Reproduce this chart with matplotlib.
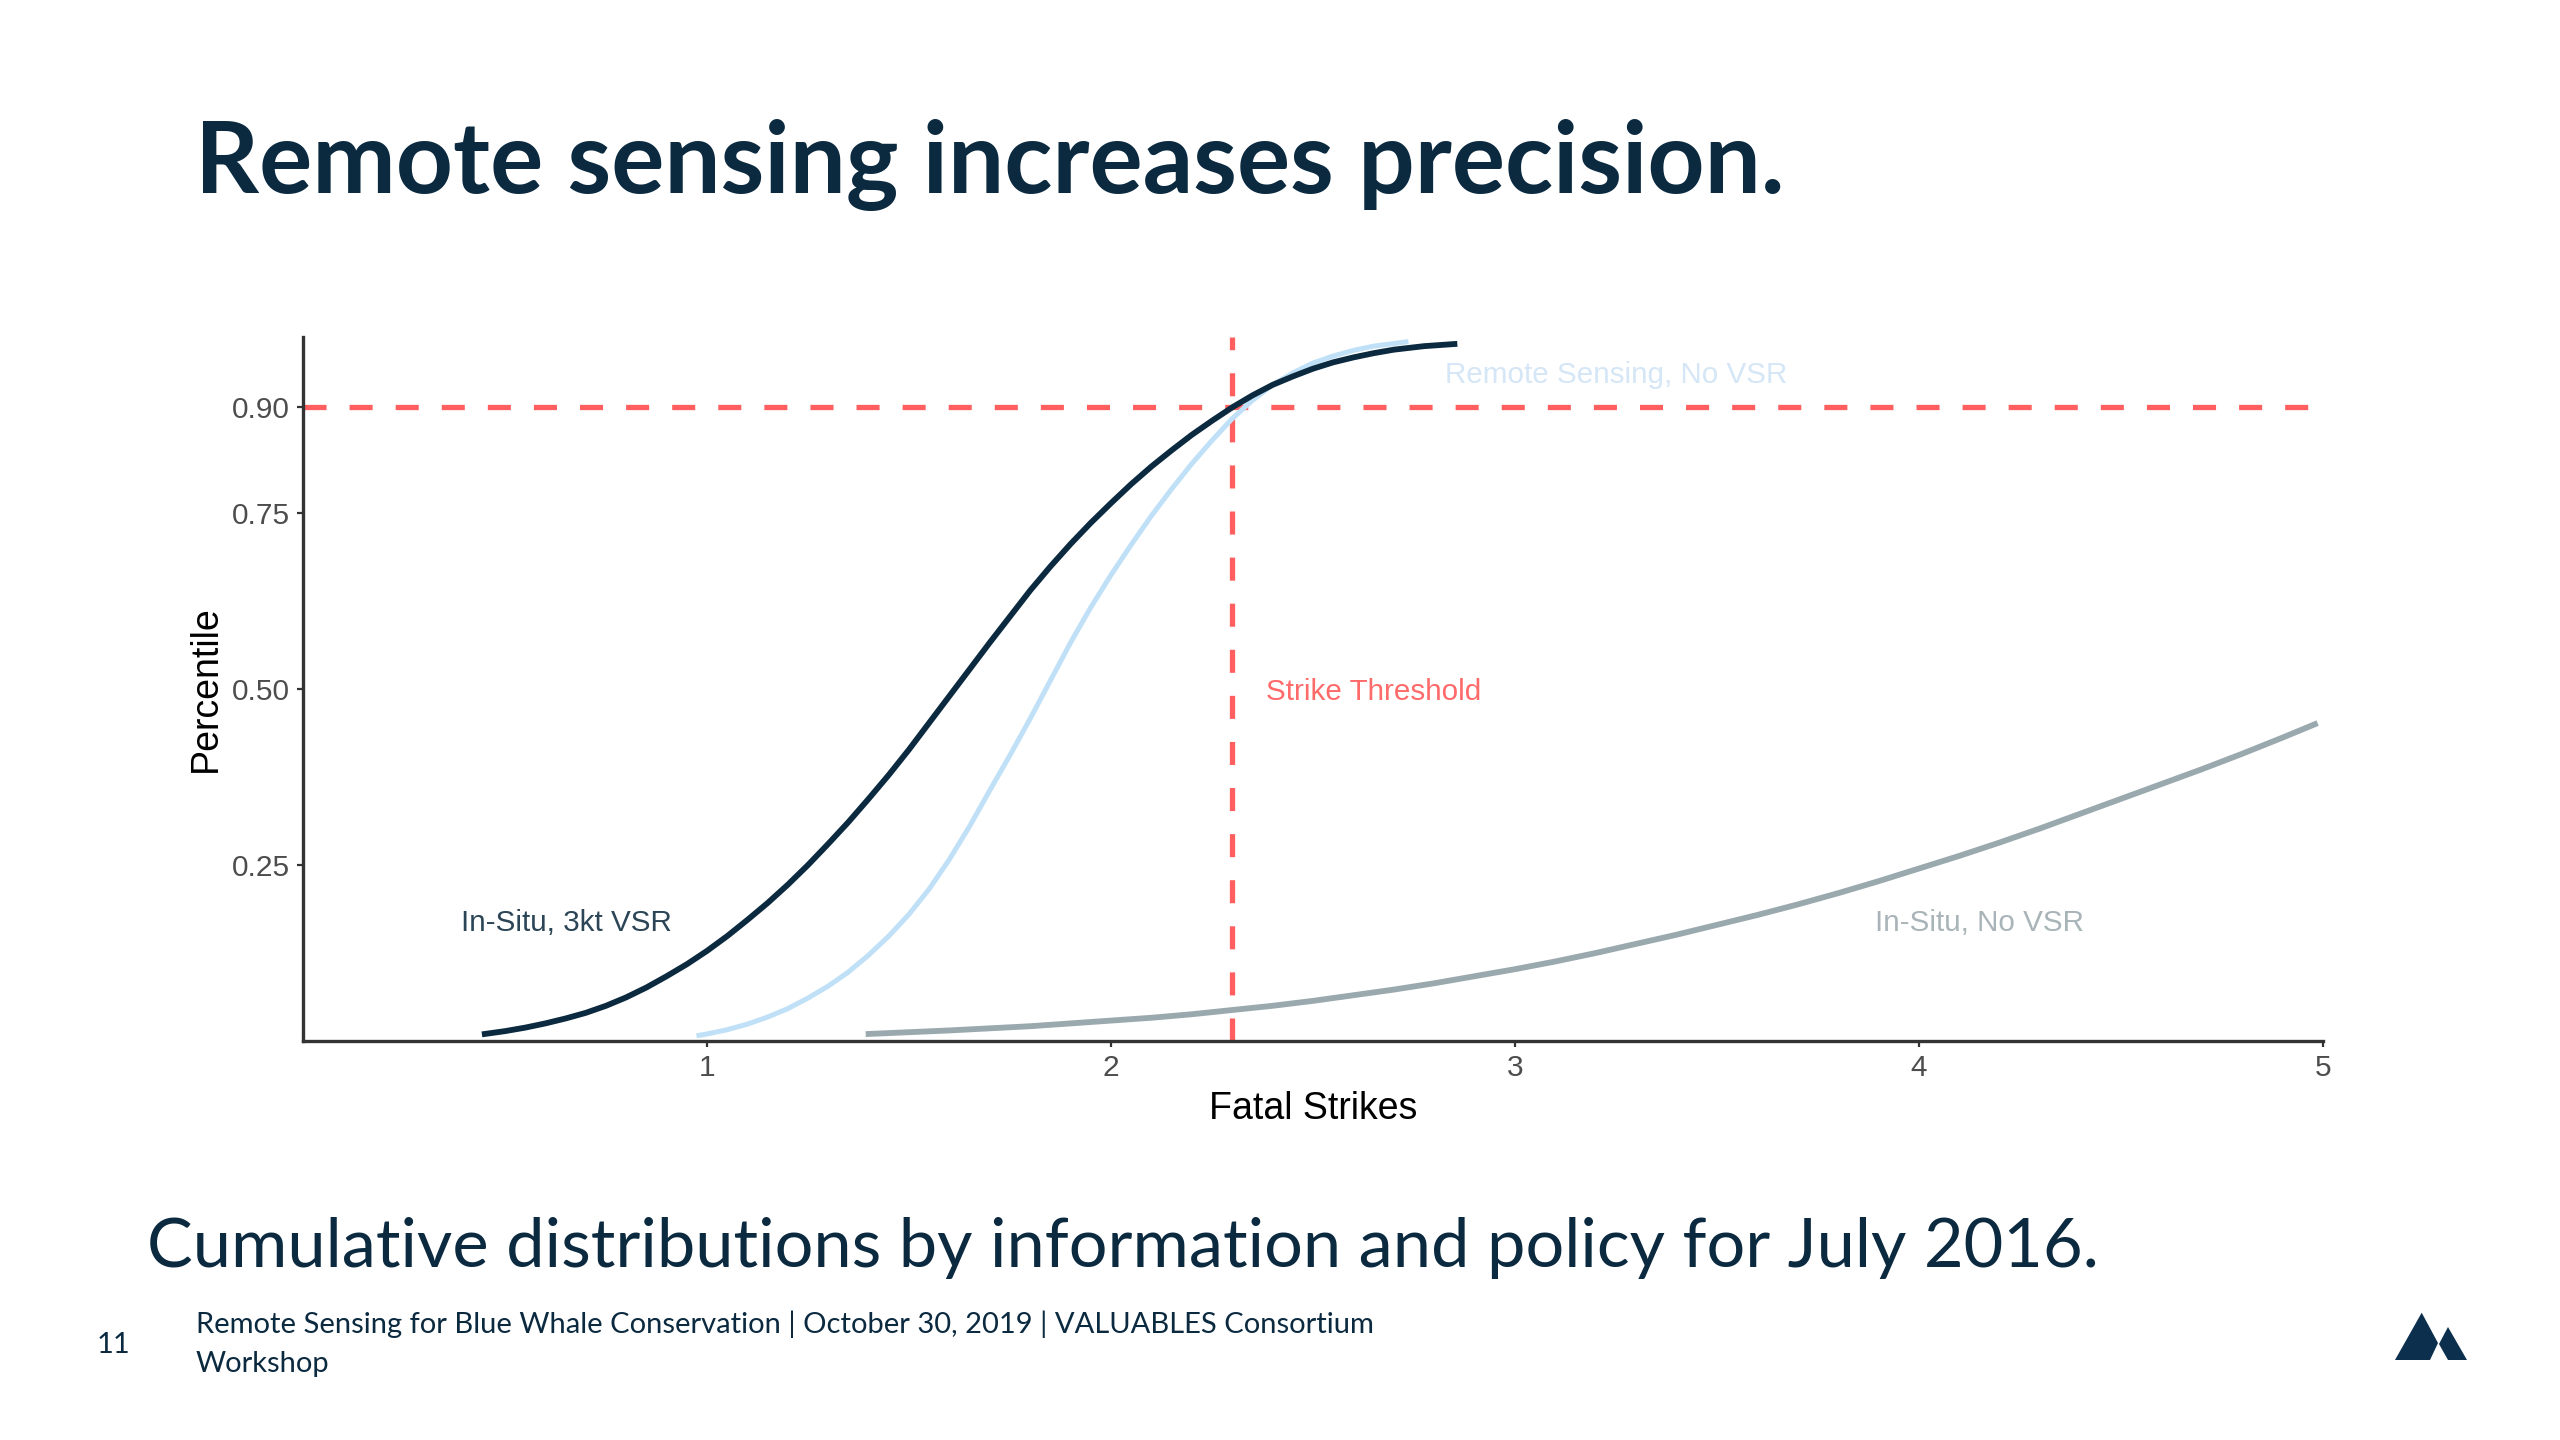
import matplotlib
matplotlib.use('Agg')
import matplotlib.pyplot as plt
from matplotlib.patches import Polygon

W, H = 2560, 1440
NAVY = '#0b2a40'
RED = '#ff5f5f'

# values
dark_x = [0.45, 0.50, 0.55, 0.60, 0.65, 0.70, 0.75, 0.80, 0.85, 0.90, 0.95, 1.00, 1.05, 1.10, 1.15,
          1.20, 1.25, 1.30, 1.35, 1.40, 1.45, 1.50, 1.55, 1.60, 1.65, 1.70, 1.75, 1.80, 1.85, 1.90,
          1.95, 2.00, 2.05, 2.10, 2.15, 2.20, 2.25, 2.30, 2.35, 2.40, 2.45, 2.50, 2.55, 2.60, 2.65,
          2.70, 2.775, 2.85]
dark_y = [0.010, 0.014, 0.019, 0.025, 0.032, 0.040, 0.050, 0.062, 0.076, 0.092, 0.109, 0.128, 0.149,
          0.172, 0.196, 0.222, 0.250, 0.280, 0.311, 0.344, 0.378, 0.414, 0.452, 0.490, 0.528, 0.566,
          0.603, 0.640, 0.674, 0.706, 0.736, 0.764, 0.791, 0.816, 0.839, 0.861, 0.881, 0.900, 0.917,
          0.932, 0.944, 0.955, 0.964, 0.971, 0.977, 0.982, 0.987, 0.990]
light_x = [0.98, 1.00, 1.05, 1.10, 1.15, 1.20, 1.25, 1.30, 1.35, 1.40, 1.45, 1.50, 1.55, 1.60, 1.65,
           1.70, 1.75, 1.80, 1.85, 1.90, 1.95, 2.00, 2.05, 2.10, 2.15, 2.20, 2.25, 2.30, 2.35, 2.40,
           2.45, 2.50, 2.55, 2.60, 2.65, 2.73]
light_y = [0.008, 0.010, 0.016, 0.024, 0.034, 0.046, 0.061, 0.078, 0.098, 0.122, 0.149, 0.180, 0.216,
           0.258, 0.305, 0.356, 0.406, 0.458, 0.512, 0.566, 0.616, 0.662, 0.705, 0.746, 0.784, 0.820,
           0.853, 0.884, 0.910, 0.932, 0.949, 0.963, 0.973, 0.981, 0.987, 0.993]
grey_x = [1.40, 1.60, 1.80, 2.00, 2.10, 2.20, 2.30, 2.40, 2.50, 2.60, 2.70, 2.80, 2.90, 3.00, 3.10,
          3.20, 3.30, 3.40, 3.50, 3.60, 3.70, 3.80, 3.90, 4.00, 4.10, 4.20, 4.30, 4.40, 4.50, 4.60,
          4.70, 4.80, 4.90, 4.98]
grey_y = [0.010, 0.015, 0.021, 0.029, 0.033, 0.038, 0.044, 0.050, 0.057, 0.065, 0.073, 0.082, 0.092,
          0.102, 0.113, 0.125, 0.138, 0.151, 0.165, 0.179, 0.194, 0.210, 0.227, 0.245, 0.263, 0.282,
          0.302, 0.323, 0.344, 0.365, 0.386, 0.408, 0.431, 0.450]
threshold_x = 2.3
threshold_y = 0.90
xticks = [1, 2, 3, 4, 5]
yticks = [0.25, 0.50, 0.75, 0.90]

fig = plt.figure(figsize=(25.6, 14.4), dpi=100, facecolor='white')
ax = fig.add_axes([303 / W, 1 - 1041 / H, 2020 / W, 704 / H])
ax.set_xlim(0, 5)
ax.set_ylim(0, 1)

ax.axhline(threshold_y, color=RED, lw=3.8, ls=(0, (4.366, 4.366)), zorder=2)
ax.axvline(threshold_x, color=RED, lw=3.8, ls=(0, (4.366, 4.366)), zorder=2)
ax.plot(grey_x, grey_y, color='#9aa9ae', lw=4.2, zorder=3)
ax.plot(light_x, light_y, color='#bfe0f6', lw=3.6, zorder=4)
ax.plot(dark_x, dark_y, color=NAVY, lw=4.2, zorder=5)

for s in ['top', 'right']:
    ax.spines[s].set_visible(False)
for s in ['left', 'bottom']:
    ax.spines[s].set_linewidth(2.4)
    ax.spines[s].set_color('#333333')

ax.set_xticks(xticks)
ax.set_yticks(yticks)
ax.set_yticklabels(['%.2f' % v for v in yticks])
ax.tick_params(length=4.5, width=1.6, color='#333333', labelcolor='#4d4d4d', labelsize=21.5, pad=5)
for t in ax.get_xticklabels() + ax.get_yticklabels():
    t.set_family('Liberation Sans')

ax.set_xlabel('Fatal Strikes', family='Liberation Sans', fontsize=27, color='black', labelpad=6)
ax.set_ylabel('Percentile', family='Liberation Sans', fontsize=27, color='black')
ax.yaxis.set_label_coords(-0.039, 0.5)

labels = [
    (0.39, 0.167, 'In-Situ, 3kt VSR', '#2b4557'),
    (2.384, 0.496, 'Strike Threshold', '#ff6a6a'),
    (2.826, 0.946, 'Remote Sensing, No VSR', '#d5e6f7'),
    (3.89, 0.167, 'In-Situ, No VSR', '#a9b4b9'),
]
for x, y, s, c in labels:
    ax.text(x, y, s, color=c, fontsize=21.3, family='Liberation Sans', va='center', ha='left', zorder=7)

# slide text
fig.text(195 / W, 1 - 193 / H, 'Remote sensing increases precision.', family='Lato', weight='bold',
         fontsize=71.7, color=NAVY, va='baseline')
fig.text(147 / W, 1 - 1267 / H, 'Cumulative distributions by information and policy for July 2016.',
         family='Lato', fontsize=49.3, color=NAVY, va='baseline')
fig.text(196 / W, 1 - 1333 / H, 'Remote Sensing for Blue Whale Conservation | October 30, 2019 | VALUABLES Consortium',
         family='Lato', fontsize=21, color=NAVY, va='baseline')
fig.text(196 / W, 1 - 1372 / H, 'Workshop', family='Lato', fontsize=21, color=NAVY, va='baseline')
fig.text(97 / W, 1 - 1353 / H, '11', family='Lato', fontsize=21, color=NAVY, va='baseline')

# logo
big = [(2395, 1360), (2421.7, 1312.7), (2438, 1343), (2430, 1360)]
small = [(2439, 1344), (2448, 1327), (2467, 1360), (2448, 1360)]
for pts in (big, small):
    fig.patches.append(Polygon([(x / W, 1 - y / H) for x, y in pts], closed=True, transform=fig.transFigure,
                               facecolor='#0b2f4c', edgecolor='none'))

fig.savefig('out.png', dpi=100)
